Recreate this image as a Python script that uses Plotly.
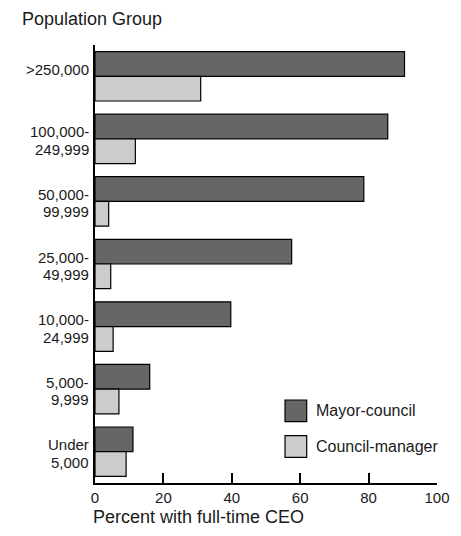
import plotly.graph_objects as go

groups = [">250,000", "100,000-<br>249,999", "50,000-<br>99,999", "25,000-<br>49,999",
          "10,000-<br>24,999", "5,000-<br>9,999", "Under<br>5,000"]
mayor_council = [90.5, 85.6, 78.6, 57.5, 39.7, 16.0, 11.1]
council_manager = [30.9, 11.8, 4.0, 4.6, 5.3, 7.0, 9.1]
x_ticks = [0, 20, 40, 60, 80, 100]

FONT = "Liberation Sans, Arial, sans-serif"
TXT = "#1a1a1a"
DARK = "#666666"
LIGHT = "#cccccc"

fig = go.Figure()
fig.add_trace(go.Bar(y=groups, x=mayor_council, orientation="h", name="Mayor-council",
                     marker=dict(color=DARK, line=dict(color="black", width=1.2))))
fig.add_trace(go.Bar(y=groups, x=council_manager, orientation="h", name="Council-manager",
                     marker=dict(color=LIGHT, line=dict(color="black", width=1.2))))

fig.update_layout(
    width=461, height=536,
    margin=dict(l=95, r=24, t=45, b=53),
    paper_bgcolor="white", plot_bgcolor="white",
    barmode="group", bargap=0.21, bargroupgap=0,
    showlegend=False,
    font=dict(family=FONT, size=15, color=TXT),
    xaxis=dict(range=[0, 100], tickvals=x_ticks, ticks="inside", ticklen=10, tickwidth=2,
               tickcolor="black", showline=True, linecolor="black", linewidth=2,
               showgrid=False, zeroline=False, tickfont=dict(size=15, family=FONT, color=TXT)),
    yaxis=dict(range=[6.5, -0.5], categoryorder="array", categoryarray=groups,
               ticks="", showline=True, linecolor="black", linewidth=2,
               showgrid=False, zeroline=False, showticklabels=False),
)

# Category labels with tight line spacing
for g in groups:
    lines = g.split("<br>")
    shifts = [7, -10.5]
    for line, ys in zip(lines, shifts):
        fig.add_annotation(text=line, xref="paper", yref="y", x=0, y=g, xanchor="right",
                           yanchor="middle", xshift=-4, yshift=ys, showarrow=False,
                           font=dict(size=15, family=FONT, color=TXT))

fig.add_annotation(text="Population Group", xref="paper", yref="paper", x=-0.218, y=1.06,
                   xanchor="left", yanchor="middle", showarrow=False,
                   font=dict(size=18, family=FONT, color=TXT))
fig.add_annotation(text="Percent with full-time CEO", xref="paper", yref="paper", x=-0.013, y=-0.077,
                   xanchor="left", yanchor="middle", showarrow=False,
                   font=dict(size=18, family=FONT, color=TXT))

# Custom legend
legend_items = [("Mayor-council", DARK), ("Council-manager", LIGHT)]
for i, (label, col) in enumerate(legend_items):
    y1 = 0.1895 - i * 0.0815
    y0 = y1 - 0.0495
    fig.add_shape(type="rect", xref="paper", yref="paper", x0=0.5556, x1=0.619,
                  y0=y0, y1=y1, fillcolor=col, line=dict(color="black", width=1.2))
    fig.add_annotation(text=label, xref="paper", yref="paper", x=0.64, y=(y0 + y1) / 2,
                       xanchor="left", yanchor="middle", showarrow=False,
                       font=dict(size=16, family=FONT, color=TXT))

fig.write_html("out.html", config={"displayModeBar": False},
               post_script="document.body.style.margin='0';")
